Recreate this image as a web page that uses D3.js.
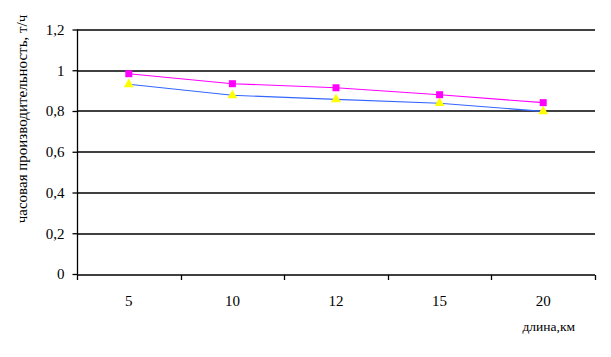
<!DOCTYPE html>
<html>
<head>
<meta charset="utf-8">
<script src="https://cdn.jsdelivr.net/npm/d3@7"></script>
<style>
  body { margin: 0; background: #fff; }
  svg text { font-family: "Liberation Serif", "DejaVu Serif", "Times New Roman", serif !important; fill: #000; }
</style>
</head>
<body>
<div class="chart"></div>
<script>
// chart data
const lengths = ['5', '10', '12', '15', '20'];
const seriesPink = [0.983, 0.934, 0.914, 0.880, 0.841];
const seriesBlue = [0.931, 0.877, 0.857, 0.838, 0.798];
const yTicks = [0, 0.2, 0.4, 0.6, 0.8, 1, 1.2];

const margin = { top: 29.5, right: 16, bottom: 83, left: 77 },
  width = 611 - margin.left - margin.right,
  height = 357 - margin.top - margin.bottom;

// scales
const x = d3.scaleBand().domain(lengths).range([0, width]);
const y = d3.scaleLinear().domain([0, 1.2]).range([height, 0]);

const svg = d3.select('.chart').append('svg')
  .attr('width', 611)
  .attr('height', 357)
  .append('g')
  .attr('transform', `translate(${margin.left},${margin.top})`);

// horizontal grid lines
svg.append('g')
  .selectAll('line')
  .data(yTicks.slice(1))
  .join('line')
  .attr('x1', 0)
  .attr('x2', width)
  .attr('y1', d => Math.round(y(d)) + 0.5)
  .attr('y2', d => Math.round(y(d)) + 0.5)
  .attr('stroke', '#000')
  .attr('stroke-width', 1.3);

// y axis
const yAxis = svg.append('g')
  .attr('transform', 'translate(0.5,0)')
  .call(d3.axisLeft(y).tickValues(yTicks).tickSize(5).tickPadding(8)
    .tickFormat(d => String(d).replace('.', ',')));
yAxis.attr('font-family', null).attr('font-size', null);
yAxis.selectAll('text').style('font-size', '15px');
yAxis.selectAll('line, path').attr('stroke', '#000').attr('stroke-width', 1.3);
yAxis.select('.domain').attr('d', `M0,${height + 0.5}V0`);

// x axis with ticks between categories
const xAxis = svg.append('g')
  .attr('transform', `translate(0,${Math.round(height) + 0.5})`);
xAxis.append('line')
  .attr('x1', 0).attr('x2', width)
  .attr('stroke', '#000').attr('stroke-width', 1.3);
xAxis.selectAll('.tk')
  .data(d3.range(lengths.length + 1))
  .join('line')
  .attr('class', 'tk')
  .attr('x1', i => Math.round(i * x.step()) + 0.5)
  .attr('x2', i => Math.round(i * x.step()) + 0.5)
  .attr('y1', 0).attr('y2', 5)
  .attr('stroke', '#000').attr('stroke-width', 1.3);
xAxis.selectAll('.lbl')
  .data(lengths)
  .join('text')
  .attr('class', 'lbl')
  .attr('x', d => x(d) + x.bandwidth() / 2)
  .attr('y', 31)
  .attr('text-anchor', 'middle')
  .style('font-size', '15px')
  .text(d => d);

// axis titles
svg.append('text')
  .attr('transform', `translate(${22 - margin.left},${119 - margin.top}) rotate(-90)`)
  .attr('text-anchor', 'middle')
  .attr('dy', '0.35em')
  .style('font-size', '15px')
  .text('часовая производительность, т/ч');

svg.append('text')
  .attr('x', 575 - margin.left)
  .attr('y', 331 - margin.top)
  .attr('text-anchor', 'end')
  .style('font-size', '13.5px')
  .text('длина,км');

// lines
const cx = d => x(d) + x.bandwidth() / 2;
const line = d3.line()
  .x((d, i) => cx(lengths[i]))
  .y(d => y(d));

svg.append('path')
  .datum(seriesBlue)
  .attr('fill', 'none')
  .attr('stroke', '#3366ff')
  .attr('stroke-width', 1.1)
  .attr('d', line);

svg.append('path')
  .datum(seriesPink)
  .attr('fill', 'none')
  .attr('stroke', '#ff00ff')
  .attr('stroke-width', 1.1)
  .attr('d', line);

// markers
svg.append('g')
  .selectAll('path')
  .data(seriesBlue)
  .join('path')
  .attr('transform', (d, i) => `translate(${cx(lengths[i])},${y(d)})`)
  .attr('d', d3.symbol(d3.symbolTriangle, 42))
  .attr('fill', '#ffff00');

svg.append('g')
  .selectAll('rect')
  .data(seriesPink)
  .join('rect')
  .attr('x', (d, i) => cx(lengths[i]) - 3.5)
  .attr('y', d => y(d) - 3.5)
  .attr('width', 7)
  .attr('height', 7)
  .attr('fill', '#ff00ff');
</script>
</body>
</html>
